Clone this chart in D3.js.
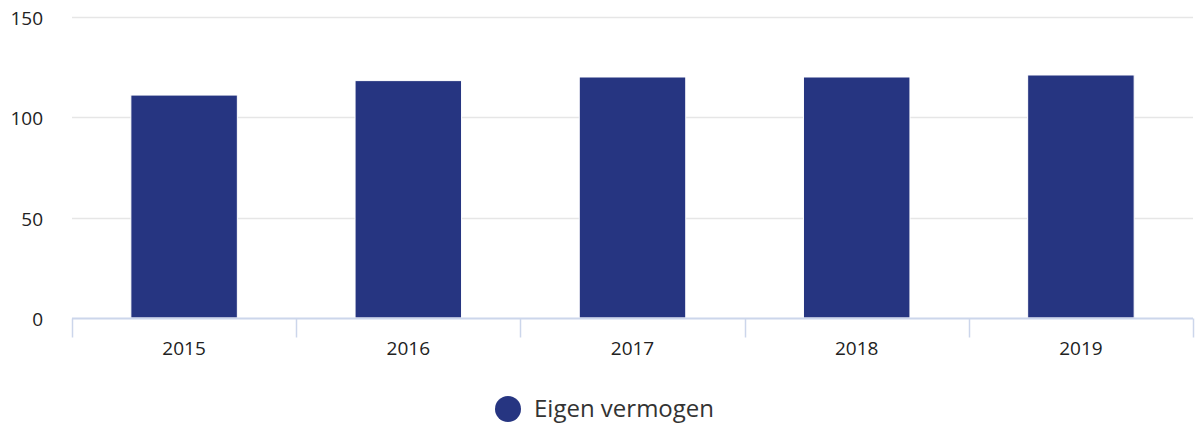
<!DOCTYPE html>
<html><head><meta charset="utf-8">
<script src="https://cdn.jsdelivr.net/npm/d3@7"></script>
<style>
body{margin:0;background:#fff;}
svg{display:block;font-family:"Open Sans","Noto Sans",sans-serif;}
</style></head>
<body>
<svg id="chart" width="1195" height="423"></svg>
<script>
const categories = ["2015","2016","2017","2018","2019"];
const values = [111.1, 118.3, 120.1, 120.1, 121.1];
const yTicks = [0, 50, 100, 150];
const seriesName = "Eigen vermogen";

(function(){
const svg = d3.select("#chart");
const pLeft = 72, pRight = 1193, pTop = 17, pBottom = 318;
const x = d3.scaleBand().domain(categories).range([pLeft, pRight]).paddingInner(0).paddingOuter(0);
const y = d3.scaleLinear().domain([0,150]).range([pBottom, pTop]);

// gridlines
svg.append("g").selectAll("line").data(yTicks.filter(d=>d>0)).join("line")
  .attr("x1", pLeft).attr("x2", pRight)
  .attr("y1", d=>Math.round(y(d))+0.5).attr("y2", d=>Math.round(y(d))+0.5)
  .attr("stroke", "#e6e6e6").attr("stroke-width", 1.5);

// y labels
svg.append("g").selectAll("text").data(yTicks).join("text")
  .attr("x", 43).attr("y", d=>y(d)+8)
  .attr("text-anchor","end").attr("font-size",19).attr("fill","#222")
  .text(d=>d);

// bars
const bw = x.bandwidth()*0.475;
svg.append("g").selectAll("rect").data(values).join("rect")
  .attr("x", (d,i)=>x(categories[i]) + (x.bandwidth()-bw)/2)
  .attr("width", bw)
  .attr("y", d=>y(d))
  .attr("height", d=>pBottom - y(d))
  .attr("fill", "#263581")
  .attr("stroke", "#fff").attr("stroke-width", 1);

// x axis
const gx = svg.append("g").attr("transform", `translate(0,${pBottom+0.5})`);
gx.append("line").attr("x1", pLeft).attr("x2", pRight).attr("stroke","#ccd6eb").attr("stroke-width",2);
const tickPos = d3.range(categories.length+1).map(i=> pLeft + i*x.bandwidth());
gx.selectAll("line.t").data(tickPos).join("line").attr("class","t")
  .attr("x1", d=>Math.round(d)+0.5).attr("x2", d=>Math.round(d)+0.5)
  .attr("y1", 0).attr("y2", 19).attr("stroke","#ccd6eb").attr("stroke-width",1.5);
gx.selectAll("text").data(categories).join("text")
  .attr("x", d=>x(d)+x.bandwidth()/2).attr("y", 36)
  .attr("text-anchor","middle").attr("font-size",19).attr("fill","#222")
  .text(d=>d);

// legend
const lg = svg.append("g");
lg.append("circle").attr("cx", 508).attr("cy", 409).attr("r", 13).attr("fill","#263581");
lg.append("text").attr("x", 534).attr("y", 417)
  .attr("font-size",24).attr("fill","#333").text(seriesName);
})();
</script>
</body></html>
